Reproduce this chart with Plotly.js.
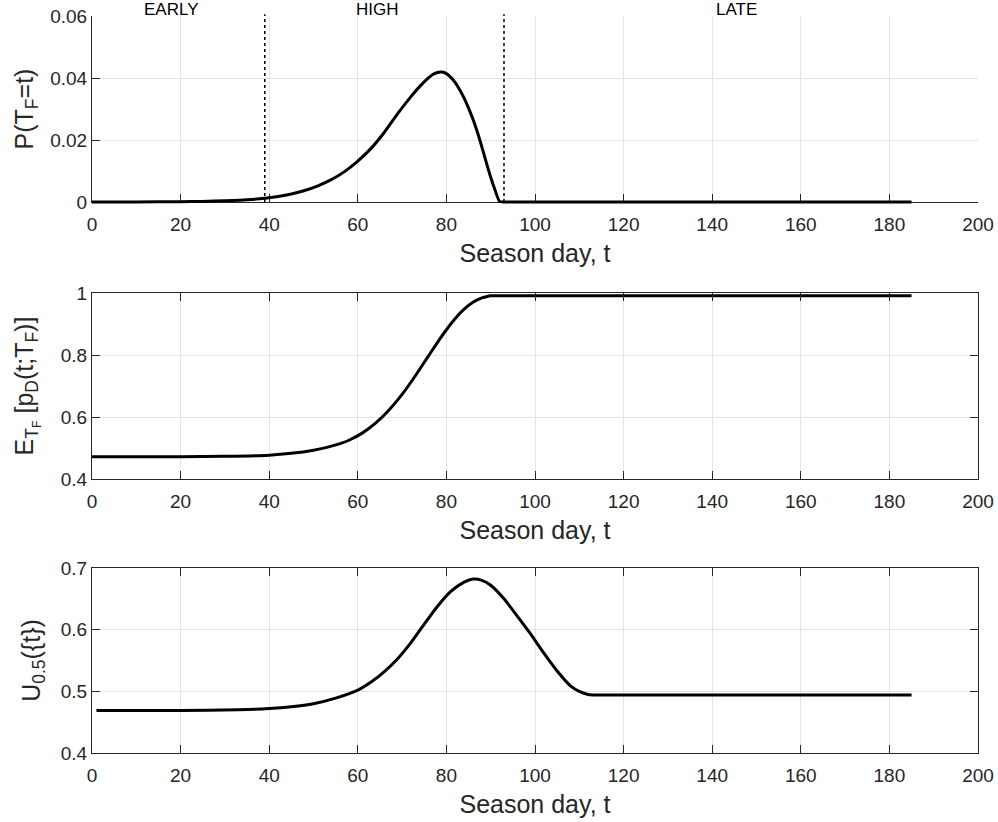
<!DOCTYPE html>
<html>
<head>
<meta charset="utf-8">
<script src="https://cdn.plot.ly/plotly-3.0.1.min.js"></script>
<style>html,body{margin:0;padding:0;background:#fff;}#chart{width:998px;height:822px;}</style>
</head>
<body>
<div id="chart"></div>
<script>
// Panel 1: P(T_F = t)
var t1 = [0, 10, 20, 25, 30, 35, 39, 42, 45, 48, 51, 54, 57, 60, 63, 66, 69, 72, 74, 76, 77, 78, 79, 80, 81, 82, 83, 84, 85, 86, 87, 88, 89, 90, 91, 92, 93, 95, 120, 150, 185];
var pTF = [0, 0, 0.0001, 0.0002, 0.0004, 0.0007, 0.0012, 0.0018, 0.0026, 0.0037, 0.0052, 0.0072, 0.0098, 0.0132, 0.0173, 0.0225, 0.0285, 0.0340, 0.0373, 0.0401, 0.0412, 0.0418, 0.0419, 0.0414, 0.0402, 0.0385, 0.0362, 0.0335, 0.0303, 0.0267, 0.0225, 0.0178, 0.0128, 0.0080, 0.0038, 0.0002, 0, 0, 0, 0, 0];

// Panel 2: E_{T_F}[p_D(t;T_F)]
var t2 = [0, 20, 30, 40, 45, 50, 53, 56, 58, 61, 64, 67, 70, 73, 76, 79, 82, 84, 86, 88, 89, 90, 92, 185];
var eTF = [0.472, 0.472, 0.473, 0.477, 0.483, 0.493, 0.502, 0.514, 0.525, 0.548, 0.580, 0.622, 0.673, 0.733, 0.798, 0.862, 0.918, 0.948, 0.970, 0.984, 0.988, 0.991, 0.991, 0.991];

// Panel 3: U_0.5({t})
var t3 = [1, 20, 33, 40, 45, 50, 55, 60, 63, 66, 69, 72, 75, 78, 81, 84, 86, 88, 90, 93, 96, 99, 102, 105, 108, 110, 112, 114, 120, 150, 185];
var u05 = [0.469, 0.469, 0.470, 0.472, 0.475, 0.480, 0.489, 0.502, 0.515, 0.532, 0.553, 0.579, 0.609, 0.638, 0.662, 0.677, 0.682, 0.680, 0.672, 0.650, 0.622, 0.593, 0.562, 0.533, 0.509, 0.500, 0.495, 0.494, 0.494, 0.494, 0.494];

// Season phases
var phaseBounds = [39, 93];
var phaseLabels = ["EARLY", "HIGH", "LATE"];
var phaseLabelX = [18, 64.5, 145.5];

var xTitle = "Season day, t";
var yTitles = ["P(T<sub>F</sub>=t)", "E<sub>T<sub>F</sub></sub> [p<sub>D</sub>(t;T<sub>F</sub>)]", "U<sub>0.5</sub>({t})"];

var FONT = "Liberation Sans, Arial, Helvetica, sans-serif";
var AX = "#262626";
var GRID = "#e3e3e3";

var lineStyle = {color: "#000000", width: 3, shape: "spline", smoothing: 0.6};
var traces = [
  {x: t1, y: pTF, xaxis: "x4", yaxis: "y4", mode: "lines", line: lineStyle, hoverinfo: "skip"},
  {x: t2, y: eTF, xaxis: "x2", yaxis: "y2", mode: "lines", line: lineStyle, hoverinfo: "skip"},
  {x: t3, y: u05, xaxis: "x3", yaxis: "y3", mode: "lines", line: lineStyle, hoverinfo: "skip"}
];
phaseBounds.forEach(function (b) {
  traces.push({x: [b, b], y: [0, 0.0606], xaxis: "x4", yaxis: "y4", mode: "lines",
    line: {color: "#000000", width: 1.5, dash: "dot"}, hoverinfo: "skip"});
});

function xa(anchor, mirror) {
  return {
    anchor: anchor, domain: [0, 1], range: [0, 200], dtick: 20, tick0: 0,
    ticks: "inside", ticklen: 8, tickwidth: 1, tickcolor: AX,
    showline: true, linecolor: AX, linewidth: 1, mirror: mirror,
    showgrid: true, gridcolor: GRID, gridwidth: 1, zeroline: false,
    tickfont: {family: FONT, size: 19, color: AX}, ticklabelstandoff: 5,
    title: {text: xTitle, font: {family: FONT, size: 25, color: AX}, standoff: 10},
    fixedrange: true
  };
}
function ya(anchor, dom, rng, dt, title, mirror, so) {
  return {
    anchor: anchor, domain: dom, range: rng, dtick: dt, tick0: rng[0],
    ticks: "inside", ticklen: 8, tickwidth: 1, tickcolor: AX,
    showline: true, linecolor: AX, linewidth: 1, mirror: mirror,
    showgrid: true, gridcolor: GRID, gridwidth: 1, zeroline: false,
    tickfont: {family: FONT, size: 19, color: AX},
    title: {text: title, font: {family: FONT, size: 25, color: AX}, standoff: so},
    fixedrange: true
  };
}

// Panel 1 data are drawn on a hidden twin scale with identical px/unit, slightly
// larger clip area so the thick line at 0 is not cut by the plot edge.
var plotH = 822 - 13 - 69;
var unitPx = (202 - 16) / 0.06;
var ext = 3 / unitPx;

var annotations = phaseLabels.map(function (lab, i) {
  return {text: lab, x: phaseLabelX[i], xref: "x", y: (753 - 10) / plotH, yref: "paper",
    xanchor: "center", yanchor: "middle", showarrow: false,
    font: {family: FONT, size: 17, color: "#000000"}};
});

var layout = {
  width: 998, height: 822,
  margin: {l: 92, r: 20, t: 13, b: 69},
  paper_bgcolor: "#ffffff", plot_bgcolor: "rgba(0,0,0,0)",
  showlegend: false,
  xaxis: xa("y", false),
  yaxis: ya("x", [(753 - 202) / plotH, (753 - 16) / plotH], [0, 0.06], 0.02, yTitles[0], false, 9),
  xaxis2: xa("y2", "ticks"),
  yaxis2: ya("x2", [(753 - 479) / plotH, (753 - 293) / plotH], [0.4, 1], 0.2, yTitles[1], "ticks", 20),
  xaxis3: xa("y3", "ticks"),
  yaxis3: ya("x3", [0, (753 - 568) / plotH], [0.4, 0.7], 0.1, yTitles[2], "ticks", 13),
  xaxis4: {anchor: "y4", domain: [0, 1], range: [0, 200], visible: false, fixedrange: true},
  yaxis4: {anchor: "x4", domain: [(753 - 205) / plotH, 1], range: [-ext, 0.06 + ext], visible: false, fixedrange: true},
  annotations: annotations
};

Plotly.newPlot("chart", traces, layout, {staticPlot: true, displayModeBar: false});
</script>
</body>
</html>
